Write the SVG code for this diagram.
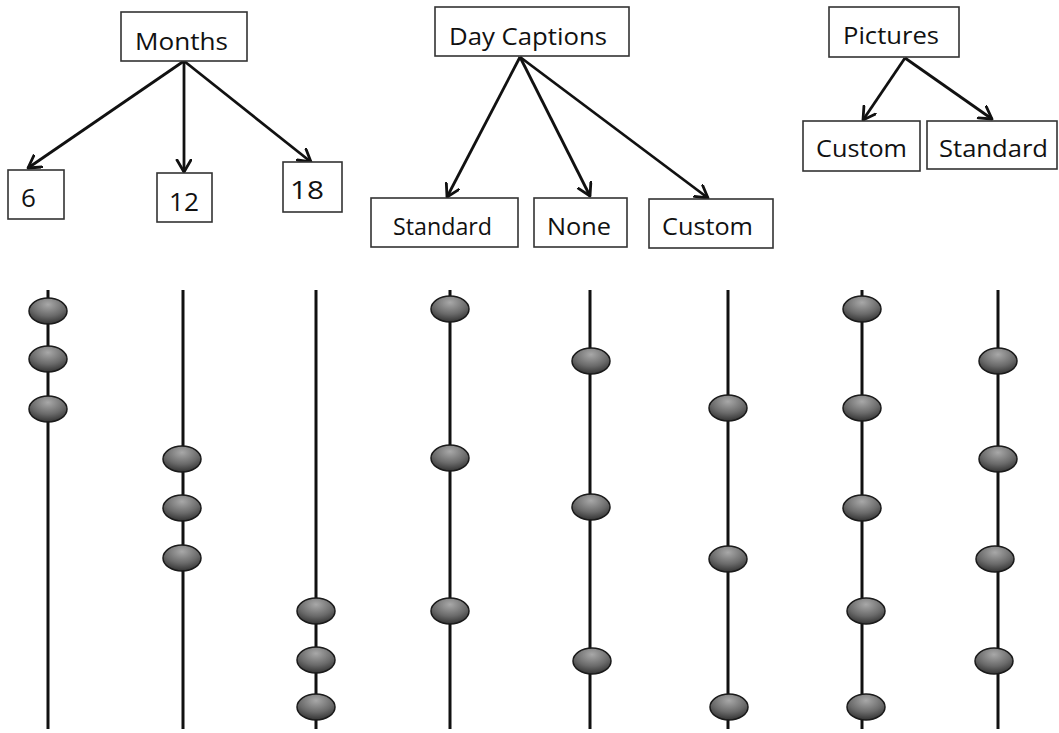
<svg xmlns="http://www.w3.org/2000/svg" width="1059" height="733" viewBox="0 0 1059 733">
<defs>
<style>
.box{fill:#fff;stroke:#333;stroke-width:1.6}
.lbl{font-family:"Open Sans","Liberation Sans",sans-serif;font-size:24px;fill:#111}
.num{font-size:26px}
.arr{stroke:#111;stroke-width:2.8;fill:none;marker-end:url(#ah)}
.rod{stroke:#111;stroke-width:3}
.bead{fill:url(#bg);stroke:#1a1a1a;stroke-width:1.5}
</style>
<marker id="ah" markerUnits="userSpaceOnUse" markerWidth="18" markerHeight="18" refX="13" refY="8" orient="auto" viewBox="0 0 18 18">
<path d="M1,1 L13,8 L1,15" fill="none" stroke="#111" stroke-width="2.8" stroke-linecap="round" stroke-linejoin="round"/>
</marker>
<radialGradient id="bg" cx="50%" cy="25%" r="75%">
<stop offset="0" stop-color="#a8a8a8"/>
<stop offset="0.6" stop-color="#6a6a6a"/>
<stop offset="1" stop-color="#333"/>
</radialGradient>
</defs>
<rect width="1059" height="733" fill="#fff"/>

<g id="connectors">
<line class="arr" x1="184" y1="61" x2="28" y2="168"/>
<line class="arr" x1="184" y1="61" x2="184" y2="172"/>
<line class="arr" x1="184" y1="61" x2="311" y2="162"/>
<line class="arr" x1="520" y1="57" x2="447" y2="197"/>
<line class="arr" x1="520" y1="57" x2="590" y2="196"/>
<line class="arr" x1="520" y1="57" x2="708" y2="198"/>
<line class="arr" x1="905" y1="58" x2="863" y2="120"/>
<line class="arr" x1="905" y1="58" x2="992" y2="119"/>
</g>

<g id="months"><rect class="box" x="121" y="12" width="126" height="49"/><text class="lbl" x="135" y="50" textLength="93" lengthAdjust="spacingAndGlyphs">Months</text></g>
<g id="m6"><rect class="box" x="8" y="170" width="56" height="49"/><text class="lbl num" x="21" y="207">6</text></g>
<g id="m12"><rect class="box" x="157" y="173" width="55" height="49"/><text class="lbl num" x="169" y="211" textLength="30" lengthAdjust="spacingAndGlyphs">12</text></g>
<g id="m18"><rect class="box" x="283" y="162" width="59" height="50"/><text class="lbl num" x="290" y="199" textLength="34" lengthAdjust="spacingAndGlyphs">18</text></g>

<g id="daycaptions"><rect class="box" x="435" y="7" width="194" height="49"/><text class="lbl" x="449" y="45" textLength="158" lengthAdjust="spacingAndGlyphs">Day Captions</text></g>
<g id="dc-standard"><rect class="box" x="371" y="198" width="147" height="49"/><text class="lbl" x="393" y="235" textLength="99" lengthAdjust="spacingAndGlyphs">Standard</text></g>
<g id="dc-none"><rect class="box" x="534" y="198" width="93" height="49"/><text class="lbl" x="547" y="235" textLength="64" lengthAdjust="spacingAndGlyphs">None</text></g>
<g id="dc-custom"><rect class="box" x="649" y="199" width="124" height="49"/><text class="lbl" x="662" y="235" textLength="91" lengthAdjust="spacingAndGlyphs">Custom</text></g>

<g id="pictures"><rect class="box" x="829" y="7" width="130" height="50"/><text class="lbl" x="843" y="44" textLength="96" lengthAdjust="spacingAndGlyphs">Pictures</text></g>
<g id="p-custom"><rect class="box" x="803" y="121" width="117" height="50"/><text class="lbl" x="816" y="157" textLength="91" lengthAdjust="spacingAndGlyphs">Custom</text></g>
<g id="p-standard"><rect class="box" x="927" y="121" width="130" height="48"/><text class="lbl" x="939" y="157" textLength="109" lengthAdjust="spacingAndGlyphs">Standard</text></g>

<g id="abacus">
<line class="rod" x1="48" y1="290" x2="48" y2="729"/>
<line class="rod" x1="183" y1="290" x2="183" y2="729"/>
<line class="rod" x1="316" y1="290" x2="316" y2="729"/>
<line class="rod" x1="450" y1="290" x2="450" y2="729"/>
<line class="rod" x1="590" y1="290" x2="590" y2="729"/>
<line class="rod" x1="728" y1="290" x2="728" y2="729"/>
<line class="rod" x1="862" y1="290" x2="862" y2="729"/>
<line class="rod" x1="998" y1="290" x2="998" y2="729"/>

<ellipse class="bead" cx="48" cy="311" rx="19" ry="13"/>
<ellipse class="bead" cx="48" cy="359" rx="19" ry="13"/>
<ellipse class="bead" cx="48" cy="409" rx="19" ry="13"/>

<ellipse class="bead" cx="182" cy="459" rx="19" ry="13"/>
<ellipse class="bead" cx="182" cy="508" rx="19" ry="13"/>
<ellipse class="bead" cx="182" cy="558" rx="19" ry="13"/>

<ellipse class="bead" cx="316" cy="611" rx="19" ry="13"/>
<ellipse class="bead" cx="316" cy="660" rx="19" ry="13"/>
<ellipse class="bead" cx="316" cy="707" rx="19" ry="13"/>

<ellipse class="bead" cx="450" cy="309" rx="19" ry="13"/>
<ellipse class="bead" cx="450" cy="458" rx="19" ry="13"/>
<ellipse class="bead" cx="450" cy="611" rx="19" ry="13"/>

<ellipse class="bead" cx="591" cy="361" rx="19" ry="13"/>
<ellipse class="bead" cx="591" cy="507" rx="19" ry="13"/>
<ellipse class="bead" cx="592" cy="661" rx="19" ry="13"/>

<ellipse class="bead" cx="728" cy="408" rx="19" ry="13"/>
<ellipse class="bead" cx="728" cy="559" rx="19" ry="13"/>
<ellipse class="bead" cx="729" cy="707" rx="19" ry="13"/>

<ellipse class="bead" cx="862" cy="309" rx="19" ry="13"/>
<ellipse class="bead" cx="862" cy="408" rx="19" ry="13"/>
<ellipse class="bead" cx="862" cy="508" rx="19" ry="13"/>
<ellipse class="bead" cx="866" cy="611" rx="19" ry="13"/>
<ellipse class="bead" cx="866" cy="707" rx="19" ry="13"/>

<ellipse class="bead" cx="998" cy="361" rx="19" ry="13"/>
<ellipse class="bead" cx="998" cy="459" rx="19" ry="13"/>
<ellipse class="bead" cx="995" cy="559" rx="19" ry="13"/>
<ellipse class="bead" cx="994" cy="661" rx="19" ry="13"/>
</g>
</svg>
